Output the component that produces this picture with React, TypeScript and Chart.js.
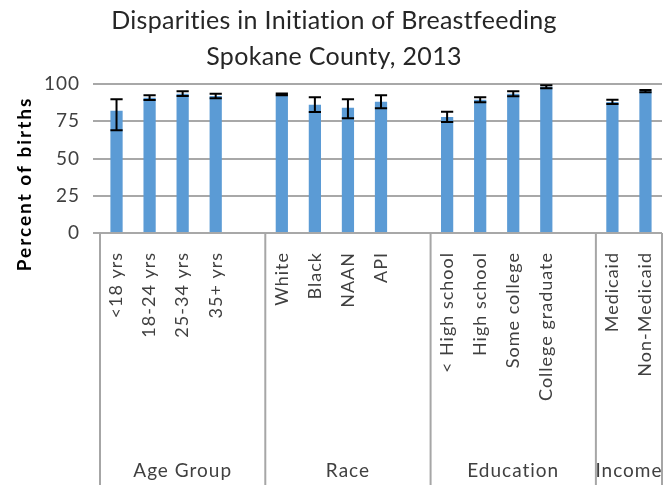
import React, { useEffect, useRef } from "react";
import { Chart, registerables } from "chart.js";

Chart.register(...registerables);

const categories = [
  "<18 yrs", "18-24 yrs", "25-34 yrs", "35+ yrs", "",
  "White", "Black", "NAAN", "API", "",
  "< High school", "High school", "Some college", "College graduate", "",
  "Medicaid", "Non-Medicaid",
];
const values = [82, 90.8, 93.5, 92, null, 93, 86, 84, 88.1, null, 77.8, 89.5, 93.5, 98.2, null, 88, 95.2];
const lows = [69, 89.3, 92, 90.4, null, 92.4, 81.2, 77, 83.7, null, 74.5, 87.7, 91.8, 97.1, null, 86.6, 94.4];
const highs = [89.7, 92.4, 95.1, 93.5, null, 93.6, 91.1, 89.7, 92.4, null, 81.4, 91.1, 95.1, 99.1, null, 89.5, 96];
const groups = ["Age Group", "Race", "Education", "Income"];
const groupBounds = [0, 5, 10, 15, 17];
const yTicks = [0, 25, 50, 75, 100];
const titleLines = ["Disparities in Initiation of Breastfeeding", "Spokane County, 2013"];
const yTitle = "Percent of births";

const FONT = "Lato, 'Open Sans', sans-serif";

const overlay = {
  id: "overlay",
  beforeLayout(chart: any) {
    chart.ctx.letterSpacing = "1px";
  },
  beforeDraw(chart: any) {
    chart.ctx.letterSpacing = "1px";
  },
  afterDatasetsDraw(chart: any) {
    const ctx = chart.ctx;
    const ys = chart.scales.y;
    const meta = chart.getDatasetMeta(0);
    ctx.save();
    ctx.strokeStyle = "#000";
    ctx.lineWidth = 2;
    values.forEach((v, i) => {
      if (v == null || lows[i] == null || highs[i] == null) return;
      const el: any = meta.data[i];
      const x = el.x;
      const half = el.width / 2;
      const yl = ys.getPixelForValue(lows[i] as number);
      const yh = ys.getPixelForValue(highs[i] as number);
      ctx.beginPath();
      ctx.moveTo(x, yl);
      ctx.lineTo(x, yh);
      ctx.moveTo(x - half, yl);
      ctx.lineTo(x + half, yl);
      ctx.moveTo(x - half, yh);
      ctx.lineTo(x + half, yh);
      ctx.stroke();
    });
    ctx.restore();
  },
  afterDraw(chart: any) {
    const ctx = chart.ctx;
    const xs = chart.scales.x;
    const area = chart.chartArea;
    const slot = xs.getPixelForValue(1) - xs.getPixelForValue(0);
    const edge = (i: number) => xs.getPixelForValue(0) - slot / 2 + i * slot;
    ctx.save();
    ctx.strokeStyle = "#a6a6a6";
    ctx.lineWidth = 2;
    groupBounds.forEach((b) => {
      const x = edge(b);
      ctx.beginPath();
      ctx.moveTo(x, area.bottom);
      ctx.lineTo(x, 485);
      ctx.stroke();
    });
    ctx.fillStyle = "#404040";
    ctx.letterSpacing = "1px";
    ctx.font = `19px ${FONT}`;
    ctx.textAlign = "center";
    ctx.textBaseline = "middle";
    groups.forEach((g, i) => {
      const x = (edge(groupBounds[i]) + edge(groupBounds[i + 1])) / 2;
      ctx.fillText(g, x, 471);
    });
    // title
    ctx.fillStyle = "#262626";
    ctx.letterSpacing = "0.3px";
    ctx.font = `25px ${FONT}`;
    ctx.fillText(titleLines[0], 334, 21);
    ctx.fillText(titleLines[1], 334, 57);
    // y title
    ctx.translate(25, 184);
    ctx.rotate(-Math.PI / 2);
    ctx.fillStyle = "#000";
    ctx.letterSpacing = "2px";
    ctx.font = `bold 19px ${FONT}`;
    ctx.fillText(yTitle, 0, 0);
    ctx.restore();
  },
};

export default function App() {
  const ref = useRef<HTMLCanvasElement>(null);
  useEffect(() => {
    if (!ref.current) return;
    const chart = new Chart(ref.current, {
      type: "bar",
      data: {
        labels: categories,
        datasets: [
          {
            data: values as any,
            backgroundColor: "#5b9bd5",
            barPercentage: 0.37,
            categoryPercentage: 1,
          },
        ],
      },
      options: {
        responsive: false,
        animation: false,
        layout: { padding: { top: 84, right: 9, left: 0, bottom: 0 } },
        plugins: { legend: { display: false }, tooltip: { enabled: false } },
        scales: {
          x: {
            grid: { display: false, drawTicks: false },
            border: { display: false },
            ticks: {
              autoSkip: false,
              maxRotation: 90,
              minRotation: 90,
              padding: 19,
              color: "#404040",
              font: { family: FONT, size: 18 },
            },
            afterFit: (s: any) => {
              s.height = 255;
              s.paddingLeft = 0;
              s.paddingRight = 0;
            },
          },
          y: {
            min: 0,
            max: 100,
            afterBuildTicks: (s: any) => {
              s.ticks = yTicks.map((v) => ({ value: v }));
            },
            grid: { color: "#a8a8a8", lineWidth: 2, tickLength: 7, drawTicks: true },
            border: { display: false },
            ticks: {
              padding: 13,
              color: "#404040",
              font: { family: FONT, size: 19 },
            },
            afterFit: (s: any) => {
              s.width = 100;
              s.paddingTop = 0;
              s.paddingBottom = 0;
            },
          },
        },
      },
      plugins: [overlay],
    });
    return () => chart.destroy();
  }, []);
  return (
    <div style={{ position: "fixed", left: 0, top: 0, width: 671, height: 488, background: "#fff" }}>
      <canvas ref={ref} width={671} height={488} />
    </div>
  );
}
